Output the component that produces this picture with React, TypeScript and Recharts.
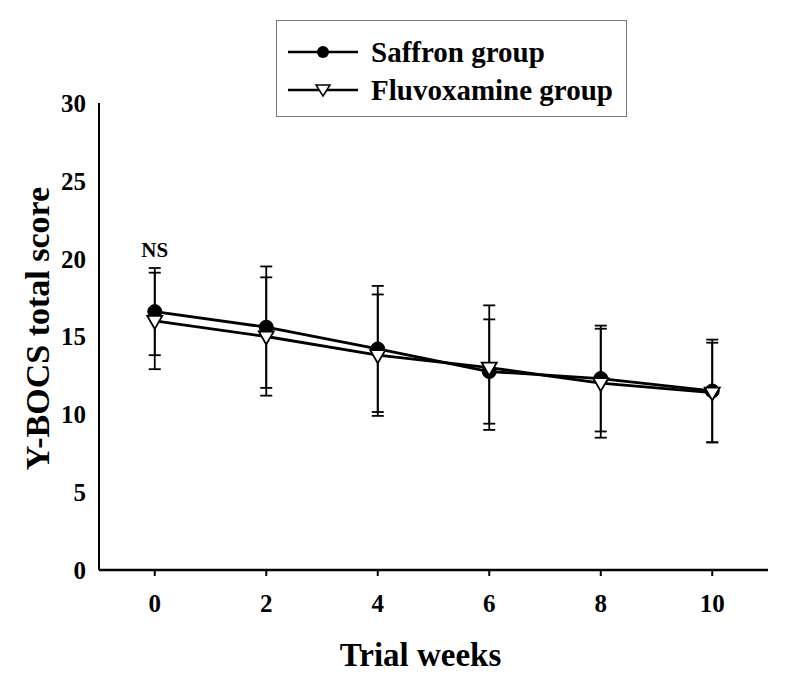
import {
  LineChart,
  Line,
  XAxis,
  YAxis,
  ErrorBar,
  Legend,
  ReferenceDot,
} from "recharts";

const weeks = [0, 2, 4, 6, 8, 10];
const saffron = [16.6, 15.6, 14.2, 12.75, 12.3, 11.5];
const saffronSd = [2.8, 3.9, 4.05, 3.35, 3.4, 3.3];
const fluvoxamine = [16.0, 15.0, 13.8, 13.0, 12.0, 11.4];
const fluvoxamineSd = [3.1, 3.8, 3.9, 4.0, 3.5, 3.2];
const yTicks = [0, 5, 10, 15, 20, 25, 30];

const data = weeks.map((w, i) => ({
  week: w,
  saffron: saffron[i],
  saffronSd: saffronSd[i],
  fluvoxamine: fluvoxamine[i],
  fluvoxamineSd: fluvoxamineSd[i],
}));

const FONT = '"Liberation Serif", "Times New Roman", serif';

const CircleDot = (props: any) => {
  const { cx, cy } = props;
  if (cx == null || cy == null) return null;
  return <circle cx={cx} cy={cy} r={7} fill="#000" stroke="#000" strokeWidth={1} />;
};

const TriangleDot = (props: any) => {
  const { cx, cy } = props;
  if (cx == null || cy == null) return null;
  return (
    <polygon
      points={`${cx - 7.5},${cy - 5} ${cx + 7.5},${cy - 5} ${cx},${cy + 8}`}
      fill="#fff"
      stroke="#000"
      strokeWidth={1.8}
    />
  );
};

function LegendBox() {
  const row = (label: string, marker: React.ReactNode) => (
    <div style={{ display: "flex", alignItems: "center", height: 38 }}>
      <svg width={70} height={20} style={{ marginRight: 13, flex: "none" }}>
        <line x1={0} y1={10} x2={70} y2={10} stroke="#000" strokeWidth={2.5} />
        {marker}
      </svg>
      <span
        style={{
          fontFamily: FONT,
          fontWeight: 700,
          fontSize: 29,
          color: "#000",
          whiteSpace: "nowrap",
          lineHeight: "38px",
        }}
      >
        {label}
      </span>
    </div>
  );
  return (
    <div
      style={{
        width: 351,
        height: 97,
        boxSizing: "border-box",
        border: "1.5px solid #777",
        background: "#fff",
        padding: "12px 0 0 11px",
      }}
    >
      {row("Saffron group", <circle cx={35} cy={10} r={6} fill="#000" />)}
      {row(
        "Fluvoxamine group",
        <polygon points="28,5 42,5 35,16" fill="#fff" stroke="#000" strokeWidth={1.5} />
      )}
    </div>
  );
}

export default function App() {
  return (
    <div style={{ position: "absolute", left: 0, top: 0, background: "#fff" }}>
      <LineChart
        width={785}
        height={677}
        data={data}
        margin={{ top: 103, right: 17, bottom: 0, left: 0 }}
      >
        <XAxis
          dataKey="week"
          type="number"
          domain={[-1, 11]}
          ticks={weeks}
          height={107}
          axisLine={{ stroke: "#000", strokeWidth: 2.5 }}
          tickLine={{ stroke: "#000", strokeWidth: 2 }}
          tickSize={6}
          tickMargin={18}
          tick={{ fill: "#000", fontFamily: FONT, fontWeight: 700, fontSize: 25 }}
          label={{
            value: "Trial weeks",
            position: "insideBottom",
            offset: 11,
            dx: -13,
            style: { fill: "#000", fontFamily: FONT, fontWeight: 700, fontSize: 33 },
          }}
        />
        <YAxis
          type="number"
          domain={[0, 30]}
          ticks={yTicks}
          width={99}
          axisLine={{ stroke: "#000", strokeWidth: 2 }}
          tickLine={false}
          tickSize={0}
          tickMargin={13}
          tick={{ fill: "#000", fontFamily: FONT, fontWeight: 700, fontSize: 25 }}
          label={{
            value: "Y-BOCS total score",
            angle: -90,
            position: "center",
            dx: -13,
            dy: -8,
            style: { fill: "#000", fontFamily: FONT, fontWeight: 700, fontSize: 34, textAnchor: "middle" },
          }}
        />
        <Legend
          layout="horizontal"
          verticalAlign="middle"
          align="center"
          wrapperStyle={{ top: 20, left: 276, width: 351, height: 97 }}
          content={() => <LegendBox />}
        />
        <ReferenceDot
          x={0}
          y={20.6}
          r={0}
          fill="none"
          stroke="none"
          label={{
            value: "NS",
            position: "center",
            style: { fill: "#000", fontFamily: FONT, fontWeight: 700, fontSize: 21 },
          }}
        />
        <Line
          dataKey="saffron"
          stroke="#000"
          strokeWidth={2.8}
          dot={<CircleDot />}
          activeDot={false}
          isAnimationActive={false}
        >
          <ErrorBar dataKey="saffronSd" direction="y" width={6} stroke="#000" strokeWidth={1.8} />
        </Line>
        <Line
          dataKey="fluvoxamine"
          stroke="#000"
          strokeWidth={2.8}
          dot={<TriangleDot />}
          activeDot={false}
          isAnimationActive={false}
        >
          <ErrorBar dataKey="fluvoxamineSd" direction="y" width={6} stroke="#000" strokeWidth={1.8} />
        </Line>
      </LineChart>
    </div>
  );
}
